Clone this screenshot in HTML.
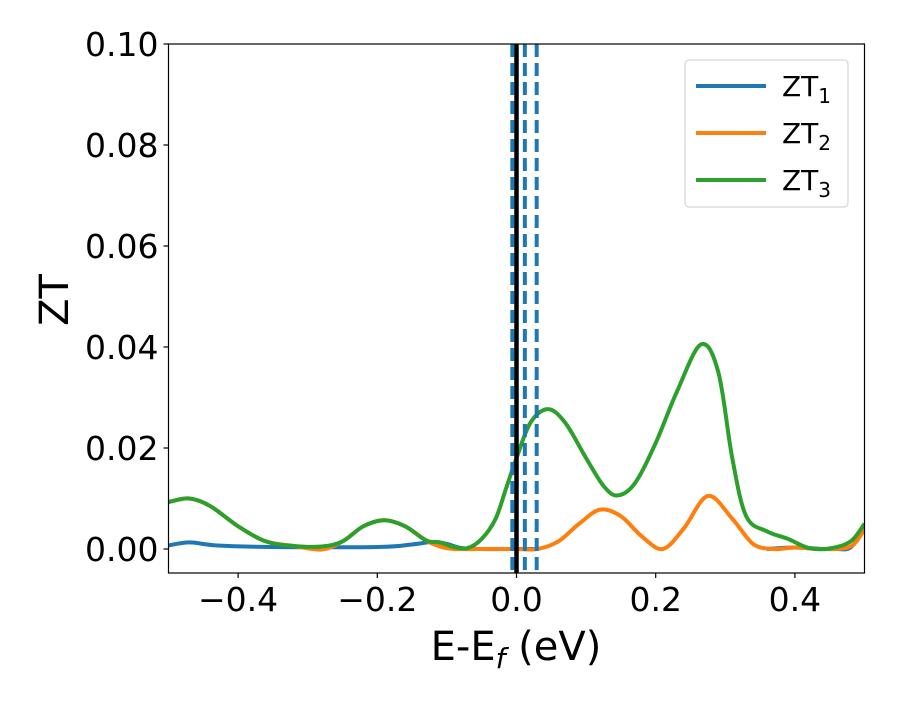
<!DOCTYPE html>
<html><head><meta charset="utf-8"><style>
body{margin:0;background:#fff;}
svg text{font-family:"DejaVu Sans","Liberation Sans",sans-serif;fill:#000;}
</style></head><body>
<svg id="chart" width="900" height="700" xmlns="http://www.w3.org/2000/svg">
<rect width="900" height="700" fill="#fff"/>
<g id="marks"></g>
<g id="axes"></g>
</svg>
<script>
const xTicks=[-0.4,-0.2,0.0,0.2,0.4];
const yTicks=[0.00,0.02,0.04,0.06,0.08,0.10];
const vLinesDashed=[-0.006,0.012,0.029];
const vLineSolid=[0.0];
const greenE=[-0.5,-0.47,-0.44,-0.4,-0.36,-0.32,-0.28,-0.25,-0.22,-0.19,-0.16,-0.13,-0.11,-0.09,-0.07,-0.05,-0.03,-0.015,0,0.02,0.045,0.07,0.1,0.125,0.145,0.17,0.2,0.23,0.265,0.29,0.31,0.33,0.36,0.39,0.42,0.45,0.48,0.5];
const greenV=[0.0093,0.0100,0.0085,0.0045,0.0015,0.0006,0.0005,0.0015,0.0045,0.0057,0.0045,0.0017,0.0013,0.0004,0.0002,0.002,0.006,0.012,0.018,0.025,0.0277,0.025,0.018,0.0125,0.0106,0.013,0.021,0.031,0.0405,0.035,0.018,0.0065,0.0035,0.002,0.0002,0.0001,0.0015,0.005];
const orangeE=[-0.5,-0.47,-0.44,-0.4,-0.36,-0.32,-0.28,-0.25,-0.22,-0.19,-0.16,-0.13,-0.11,-0.09,-0.05,0,0.03,0.06,0.09,0.12,0.15,0.18,0.21,0.24,0.275,0.31,0.34,0.37,0.4,0.44,0.48,0.5];
const orangeV=[0.0093,0.0100,0.0085,0.0045,0.0015,0.0006,-0.0001,0.0015,0.0045,0.0057,0.0045,0.0017,0.0005,0.0,0.0,0.0,0.0,0.0015,0.005,0.0078,0.0065,0.0025,0.0,0.004,0.0105,0.006,0.001,0.0,0.0003,0.0,0.0005,0.004];
const blueE=[-0.5,-0.47,-0.43,-0.35,-0.2,-0.15,-0.12,-0.1,-0.08,-0.05,0,0.03];
const blueV=[0.0007,0.0013,0.0007,0.0004,0.0004,0.0009,0.0014,0.0010,0.0002,0.0,0.0,0.0];
const blueE2=[0.36,0.4,0.44,0.46,0.48,0.5];
const blueV2=[0.0,0.0003,0.0,0.0,0.0003,0.004];

const L=168.5,R=864.5,T=44,B=573;
const xs=v=>L+(v+0.5)*(R-L);
const ys=v=>549-v*5050;
const NS="http://www.w3.org/2000/svg";
function mk(tag,attrs,parent){const e=document.createElementNS(NS,tag);for(const k in attrs)e.setAttribute(k,attrs[k]);parent.appendChild(e);return e;}
function pathD(E,V){
  const p=E.map((e,i)=>[xs(e),ys(V[i])]);
  let d=`M${p[0][0]},${p[0][1]}`;
  for(let i=0;i<p.length-1;i++){
    const p0=p[i-1]||p[i],p1=p[i],p2=p[i+1],p3=p[i+2]||p[i+1];
    const c1=[p1[0]+(p2[0]-p0[0])/6,p1[1]+(p2[1]-p0[1])/6];
    const c2=[p2[0]-(p3[0]-p1[0])/6,p2[1]-(p3[1]-p1[1])/6];
    d+=` C${c1[0]},${c1[1]} ${c2[0]},${c2[1]} ${p2[0]},${p2[1]}`;
  }
  return d;
}
const marks=document.getElementById('marks');
const axes=document.getElementById('axes');
const clip=mk('clipPath',{id:'cp'},mk('defs',{},document.getElementById('chart')));
mk('rect',{x:L,y:T,width:R-L,height:B-T},clip);
marks.setAttribute('clip-path','url(#cp)');
const b1=mk('path',{d:pathD(blueE,blueV),fill:'none',stroke:'#1f77b4','stroke-width':4},marks);


const b2=mk('path',{d:pathD(blueE2,blueV2),fill:'none',stroke:'#1f77b4','stroke-width':4},marks);


const o=mk('path',{d:pathD(orangeE,orangeV),fill:'none',stroke:'#ff7f0e','stroke-width':4},marks);


const g=mk('path',{d:pathD(greenE,greenV),fill:'none',stroke:'#2ca02c','stroke-width':4},marks);


vLinesDashed.forEach(v=>{
  const l=mk('line',{x1:xs(v),x2:xs(v),y1:T,y2:B,stroke:'#1f77b4','stroke-width':4,'stroke-dasharray':'13 6'},marks);
  
  
});
vLineSolid.forEach(v=>{
  const l=mk('line',{x1:xs(v),x2:xs(v),y1:T,y2:B,stroke:'#000','stroke-width':4.5},marks);
  
  
});
const fr=mk('rect',{x:L,y:T,width:R-L,height:B-T,fill:'none',stroke:'#000','stroke-width':1.2},axes);


xTicks.forEach(v=>{
  mk('line',{x1:xs(v),x2:xs(v),y1:B,y2:B+5,stroke:'#000','stroke-width':1.2},axes);
  const t=mk('text',{x:xs(v),y:B+38,'text-anchor':'middle','font-size':33},axes);
  t.textContent=(v<0?'\u2212':'')+Math.abs(v).toFixed(1);
  
  
});
yTicks.forEach(v=>{
  mk('line',{x1:L-5,x2:L,y1:ys(v),y2:ys(v),stroke:'#000','stroke-width':1.2},axes);
  const t=mk('text',{x:L-10,y:ys(v)+12,'text-anchor':'end','font-size':33},axes);
  t.textContent=v.toFixed(2);
  
  
});
</script>
<svg style="position:absolute;left:0;top:0" width="900" height="700">
<text x="516" y="660" text-anchor="middle" font-size="40">E-E<tspan font-size="28" dy="8" font-style="italic">f</tspan><tspan dy="-8"> (eV)</tspan></text>
<text transform="translate(68,300) rotate(-90)" text-anchor="middle" font-size="40">ZT</text>
<g>
<rect x="685" y="60" width="163" height="147" rx="4" fill="#fff" fill-opacity="0.8" stroke="#ccc"/>
<line x1="696" x2="766" y1="86" y2="86" stroke="#1f77b4" stroke-width="4"/>
<text x="782" y="96" font-size="28">ZT<tspan font-size="20" dy="7">1</tspan></text>
<line x1="696" x2="766" y1="133" y2="133" stroke="#ff7f0e" stroke-width="4"/>
<text x="782" y="143" font-size="28">ZT<tspan font-size="20" dy="7">2</tspan></text>
<line x1="696" x2="766" y1="180" y2="180" stroke="#2ca02c" stroke-width="4"/>
<text x="782" y="190" font-size="28">ZT<tspan font-size="20" dy="7">3</tspan></text>
</g>
</svg>
</body></html>
